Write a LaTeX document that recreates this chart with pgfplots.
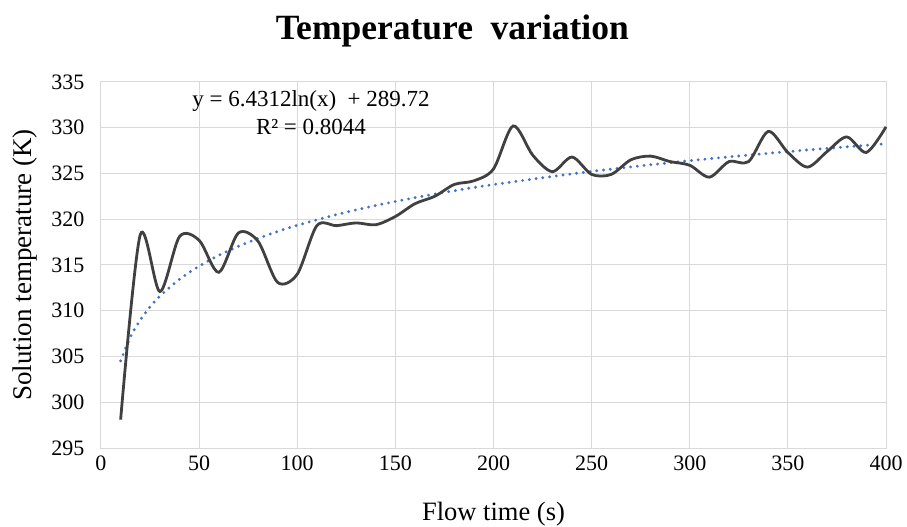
\documentclass[border=0pt]{standalone}
\usepackage{pgfplots}
\pgfplotsset{compat=1.18}
\usepackage{fontspec}
\setmainfont{Liberation Serif}
\definecolor{lineg}{HTML}{404040}
\definecolor{trendb}{HTML}{4472C4}
\definecolor{gridg}{HTML}{D9D9D9}
\begin{document}
\begin{tikzpicture}
\useasboundingbox (-101bp,-79bp) rectangle (806bp,448bp);
\begin{axis}[
  scale only axis,
  width=785bp, height=366bp,
  xmin=0, xmax=400, ymin=295, ymax=335,
  xtick={0,50,...,400}, ytick={295,300,...,335},
  grid=major,
  grid style={gridg, line width=1bp},
  axis line style={gridg, line width=1bp},
  major tick length=0pt,
  tick label style={font=\fontsize{22bp}{24bp}\selectfont, text=black},
  /pgf/number format/assume math mode=true,
  xticklabel style={yshift=-4bp},
  yticklabel style={xshift=-13bp},
  xlabel={\fontsize{26.5bp}{28bp}\selectfont Flow time (s)},
  ylabel={\fontsize{27bp}{29bp}\selectfont Solution temperature (K)},
  xlabel style={yshift=-25bp},
  ylabel style={yshift=7bp},
  clip=false,
]
\addplot[trendb, line width=3.2bp, line cap=round, dash pattern=on 0bp off 6.8bp, smooth] coordinates {
(10,304.528) (15,307.136) (20,308.986) (25,310.421) (30,311.594) (40,313.444)
(50,314.879) (60,316.052) (70,317.043) (80,317.902) (90,318.659) (100,319.337)
(120,320.509) (140,321.501) (160,322.360) (180,323.117) (200,323.795)
(250,325.230) (300,326.402) (350,327.394) (400,328.252)};
\addplot[lineg, line width=2.8bp, smooth, tension=0.5] coordinates {
(10,298.1) (20,318.3) (30,312.1) (40,318.1) (50,317.7) (60,314.2) (70,318.5)
(80,317.6) (90,313.1) (100,314.0) (110,319.3) (120,319.3) (130,319.6)
(140,319.4) (150,320.3) (160,321.7) (170,322.5) (180,323.8) (190,324.2)
(200,325.5) (210,330.2) (220,327.0) (230,325.2) (240,326.8) (250,324.9)
(260,324.9) (270,326.5) (280,326.9) (290,326.3) (300,325.9) (310,324.6)
(320,326.3) (330,326.3) (340,329.6) (350,327.3) (360,325.7) (370,327.4)
(380,329.0) (390,327.3) (400,330.1)};
\node[font=\fontsize{23bp}{25bp}\selectfont] at (axis cs:107,332.9) {y = 6.4312ln(x)~ + 289.72};
\node[font=\fontsize{23bp}{25bp}\selectfont] at (axis cs:107,330.1) {R² = 0.8044};
\node[font=\fontsize{35.5bp}{37bp}\selectfont\bfseries] at (axis cs:179,340.6) {Temperature~ variation};
\end{axis}
\end{tikzpicture}
\end{document}
